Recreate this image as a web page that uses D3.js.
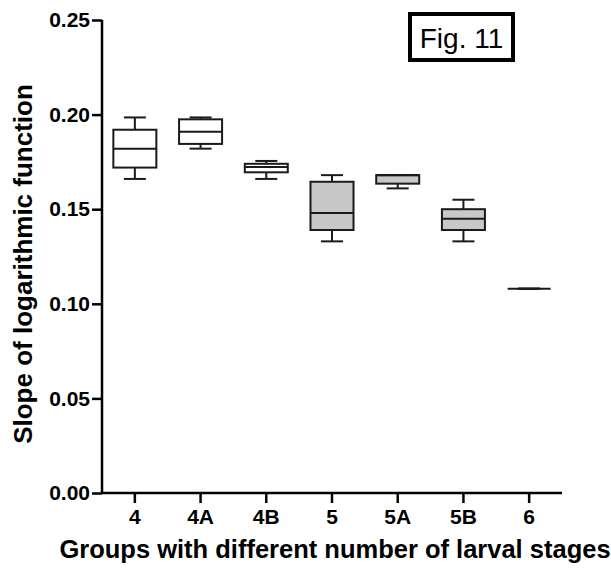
<!DOCTYPE html>
<html>
<head>
<meta charset="utf-8">
<script src="https://cdn.jsdelivr.net/npm/d3@7"></script>
<style>
  body { margin: 0; background: #fff; }
  svg text { font-family: "Liberation Sans", Arial, Helvetica, sans-serif; }
</style>
</head>
<body>
<svg id="chart" width="611" height="568"></svg>
<script>
// Groups and their box-plot statistics
const groups  = ["4", "4A", "4B", "5", "5A", "5B", "6"];
const mins    = [0.166, 0.182, 0.166, 0.133, 0.161, 0.133, 0.108];
const q1s     = [0.172, 0.1845, 0.1695, 0.139, 0.1635, 0.139, 0.108];
const medians = [0.182, 0.191, 0.1723, 0.148, 0.168, 0.145, 0.108];
const q3s     = [0.192, 0.1975, 0.174, 0.1645, 0.168, 0.150, 0.108];
const maxs    = [0.1985, 0.1985, 0.1755, 0.168, 0.168, 0.155, 0.108];
const shaded  = [false, false, false, true, true, true, false];
const yTicks  = [0, 0.05, 0.10, 0.15, 0.20, 0.25];

const rows = groups.map((g, i) => ({
  g, min: mins[i], q1: q1s[i], med: medians[i], q3: q3s[i], max: maxs[i], shaded: shaded[i]
}));

const svg = d3.select("#chart");
const plotL = 102, plotR = 562, plotT = 20, plotB = 493;

const x = d3.scaleBand().domain(groups).range([plotL, plotR]).padding(0);
const y = d3.scaleLinear().domain([0, 0.25]).range([plotB, plotT]);

const boxW = 43, capW = 22;
const ink = "#1a1a1a";

// Boxes and whiskers
const g = svg.append("g").attr("stroke", ink).attr("stroke-width", 2);
rows.forEach(d => {
  const cx = x(d.g) + x.bandwidth() / 2;
  // whisker stems
  g.append("line").attr("x1", cx).attr("x2", cx).attr("y1", y(d.max)).attr("y2", y(d.q3));
  g.append("line").attr("x1", cx).attr("x2", cx).attr("y1", y(d.q1)).attr("y2", y(d.min));
  // caps
  g.append("line").attr("x1", cx - capW / 2).attr("x2", cx + capW / 2).attr("y1", y(d.max)).attr("y2", y(d.max));
  g.append("line").attr("x1", cx - capW / 2).attr("x2", cx + capW / 2).attr("y1", y(d.min)).attr("y2", y(d.min));
  // box
  g.append("rect")
    .attr("x", cx - boxW / 2).attr("width", boxW)
    .attr("y", y(d.q3)).attr("height", y(d.q1) - y(d.q3))
    .attr("fill", d.shaded ? "#c8c8c8" : "#fff");
  // median
  g.append("line").attr("x1", cx - boxW / 2).attr("x2", cx + boxW / 2).attr("y1", y(d.med)).attr("y2", y(d.med));
});

// Axes
const yAxis = svg.append("g")
  .attr("transform", `translate(${plotL},0)`)
  .call(d3.axisLeft(y).tickValues(yTicks).tickFormat(d3.format(".2f")).tickSize(10).tickPadding(2).tickSizeOuter(0));
const xAxis = svg.append("g")
  .attr("transform", `translate(0,${plotB})`)
  .call(d3.axisBottom(x).tickSize(10).tickPadding(6).tickSizeOuter(0));

[yAxis, xAxis].forEach(a => {
  a.select(".domain").attr("stroke", "#000").attr("stroke-width", 2.5);
  a.selectAll(".tick line").attr("stroke", "#000").attr("stroke-width", 2.5);
  a.selectAll(".tick text")
    .attr("fill", "#000")
    .style("font-size", "21px")
    .style("font-weight", "bold")
    .style("font-family", "'Liberation Sans', Arial, sans-serif");
});
yAxis.select(".domain").attr("d", `M0,${plotB + 1}V${plotT}`);
xAxis.select(".domain").attr("d", `M${plotL - 1},0H${plotR}`);

// Axis titles
svg.append("text")
  .attr("x", 335).attr("y", 558)
  .attr("text-anchor", "middle")
  .style("font-size", "25.5px").style("font-weight", "bold")
  .text("Groups with different number of larval stages");

svg.append("text")
  .attr("transform", "translate(32,264) rotate(-90)")
  .attr("text-anchor", "middle")
  .style("font-size", "26px").style("font-weight", "bold")
  .text("Slope of logarithmic function");

// Figure label
svg.append("rect")
  .attr("x", 410).attr("y", 14).attr("width", 103).attr("height", 46)
  .attr("fill", "#fff").attr("stroke", "#000").attr("stroke-width", 4);
svg.append("text")
  .attr("x", 461.5).attr("y", 48)
  .attr("text-anchor", "middle")
  .style("font-size", "28px")
  .text("Fig. 11");
</script>
</body>
</html>
